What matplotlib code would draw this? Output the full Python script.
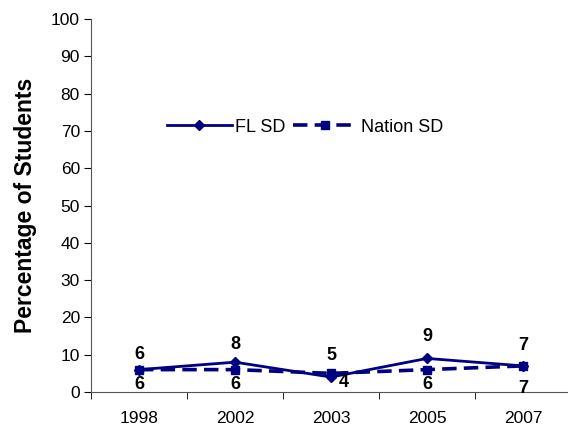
import numpy as np
import matplotlib.pyplot as plt

plt.rcParams['font.family'] = ['Liberation Sans', 'DejaVu Sans']

years = ['1998', '2002', '2003', '2005', '2007']
fl_sd = [6, 8, 4, 9, 7]
nation_sd = [6, 6, 5, 6, 7]

# label offsets (points) relative to each data point, as Excel placed them
fl_off = [(0, 11), (0, 13), (9, -4), (0, 16), (0, 15)]
nation_off = [(0, -11), (0, -11), (0, 13), (0, -11), (0, -16)]

navy = '#000080'

fig = plt.figure(figsize=(5.68, 4.29), dpi=100)
ax = fig.add_axes([91 / 568, 37 / 429, 480 / 568, 373 / 429])

x = np.arange(len(years))
ax.plot(x, fl_sd, color=navy, lw=2, marker='D', ms=5, label='FL SD')
ax.plot(x, nation_sd, color=navy, lw=2.6, ls=(0, (4, 2)), marker='s', ms=6,
        label='Nation SD')

for xi, v, off in zip(x, fl_sd, fl_off):
    ax.annotate(str(v), (xi, v), xytext=off, textcoords='offset points',
                ha='center', va='center', fontsize=13, fontweight='bold')
for xi, v, off in zip(x, nation_sd, nation_off):
    ax.annotate(str(v), (xi, v), xytext=off, textcoords='offset points',
                ha='center', va='center', fontsize=13, fontweight='bold')

ax.set_xlim(-0.5, len(years) - 0.5)
ax.set_ylim(0, 100)
ax.set_yticks(range(0, 101, 10))
ax.set_xticks(x)
ax.set_xticklabels(years)
ax.set_xticks(np.arange(-0.5, len(years), 1), minor=True)
ax.tick_params(axis='x', which='major', length=0, pad=14, labelsize=12.5)
ax.tick_params(axis='x', which='minor', length=5, direction='out')
ax.tick_params(axis='y', length=5, direction='out', labelsize=12.5, pad=3)

for s in ['top', 'right']:
    ax.spines[s].set_visible(False)
for s in ['left', 'bottom']:
    ax.spines[s].set_color('#555555')

ax.set_ylabel('Percentage of Students', fontsize=16.5, fontweight='bold', labelpad=10)

ax.legend(loc='center', bbox_to_anchor=(0.446, 0.71), ncol=2, frameon=False,
          fontsize=13, handlelength=3.6, columnspacing=0.4, handletextpad=0.2)

fig.savefig('out.png', dpi=100)
